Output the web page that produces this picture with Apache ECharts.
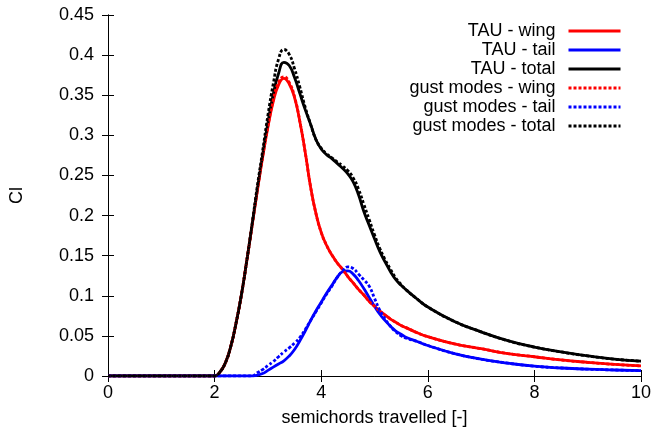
<!DOCTYPE html>
<html>
<head>
<meta charset="utf-8">
<script src="https://cdn.jsdelivr.net/npm/echarts@6/dist/echarts.min.js"></script>
<style>
html,body{margin:0;padding:0;background:#fff;}
#chart{width:657px;height:438px;}
</style>
</head>
<body>
<div id="chart"></div>
<script>
// x positions (semichords travelled)
var xs = [0, 1, 1.9, 2.0, 2.1, 2.2, 2.3, 2.4, 2.5, 2.6, 2.7, 2.8, 2.9, 3.0, 3.1, 3.2, 3.3, 3.4, 3.5, 3.6, 3.7, 3.8, 3.9, 4.0, 4.1, 4.2, 4.3, 4.4, 4.5, 4.6, 4.7, 4.8, 4.9, 5.0, 5.1, 5.2, 5.3, 5.4, 5.5, 5.6, 5.8, 6.0, 6.5, 7.0, 7.5, 8.0, 8.5, 9.0, 9.5, 10.0];

var tauWing = [0, 0, 0, 0, 0.005, 0.016, 0.036, 0.065, 0.1, 0.142, 0.186, 0.23, 0.272, 0.31, 0.342, 0.363, 0.371, 0.364, 0.347, 0.317, 0.279, 0.236, 0.203, 0.179, 0.163, 0.151, 0.141, 0.133, 0.124, 0.116, 0.108, 0.101, 0.093, 0.087, 0.081, 0.076, 0.071, 0.067, 0.063, 0.06, 0.054, 0.049, 0.04, 0.034, 0.028, 0.024, 0.02, 0.017, 0.0145, 0.0125];

var tauTail = [0, 0, 0, 0, 0, 0, 0, 0, 0, 0, 0, 0.001, 0.003, 0.007, 0.011, 0.015, 0.019, 0.025, 0.033, 0.044, 0.056, 0.069, 0.081, 0.092, 0.103, 0.113, 0.123, 0.13, 0.131, 0.127, 0.119, 0.109, 0.098, 0.087, 0.077, 0.069, 0.062, 0.056, 0.052, 0.048, 0.043, 0.038, 0.028, 0.021, 0.016, 0.0122, 0.01, 0.0085, 0.0075, 0.0066];

var tauTotal = [0, 0, 0, 0, 0.005, 0.016, 0.036, 0.065, 0.1, 0.142, 0.187, 0.232, 0.275, 0.316, 0.351, 0.377, 0.391, 0.387, 0.372, 0.352, 0.332, 0.314, 0.295, 0.283, 0.276, 0.271, 0.265, 0.259, 0.252, 0.242, 0.226, 0.205, 0.188, 0.171, 0.155, 0.142, 0.13, 0.12, 0.113, 0.107, 0.096, 0.086, 0.068, 0.055, 0.044, 0.036, 0.03, 0.025, 0.021, 0.0185];

var gustWing = [0, 0, 0, 0, 0.005, 0.016, 0.036, 0.065, 0.1, 0.142, 0.186, 0.231, 0.273, 0.311, 0.344, 0.366, 0.373, 0.366, 0.348, 0.317, 0.279, 0.236, 0.203, 0.179, 0.163, 0.151, 0.141, 0.133, 0.124, 0.116, 0.108, 0.101, 0.093, 0.087, 0.081, 0.076, 0.071, 0.067, 0.063, 0.06, 0.054, 0.049, 0.04, 0.034, 0.028, 0.024, 0.02, 0.017, 0.0145, 0.0125];

var gustTail = [0, 0, 0, 0, 0, 0, 0, 0, 0, 0, 0, 0.004, 0.008, 0.013, 0.018, 0.024, 0.03, 0.035, 0.041, 0.048, 0.058, 0.069, 0.08, 0.091, 0.102, 0.112, 0.123, 0.131, 0.136, 0.134, 0.127, 0.12, 0.112, 0.097, 0.082, 0.071, 0.062, 0.055, 0.05, 0.047, 0.043, 0.038, 0.028, 0.021, 0.016, 0.0122, 0.01, 0.0085, 0.0075, 0.0066];

var gustTotal = [0, 0, 0, 0, 0.005, 0.016, 0.036, 0.065, 0.1, 0.142, 0.188, 0.236, 0.28, 0.325, 0.364, 0.395, 0.407, 0.401, 0.383, 0.36, 0.335, 0.314, 0.295, 0.284, 0.277, 0.272, 0.267, 0.262, 0.256, 0.247, 0.233, 0.214, 0.195, 0.176, 0.159, 0.145, 0.133, 0.122, 0.114, 0.107, 0.096, 0.086, 0.068, 0.055, 0.044, 0.036, 0.03, 0.025, 0.021, 0.0185];

var seriesNames = ['TAU - wing', 'TAU - tail', 'TAU - total', 'gust modes - wing', 'gust modes - tail', 'gust modes - total'];
var xTicks = [0, 2, 4, 6, 8, 10];
var yTicks = [0, 0.05, 0.1, 0.15, 0.2, 0.25, 0.3, 0.35, 0.4, 0.45];

function pairs(ys) { return xs.map(function (x, i) { return [x, ys[i]]; }); }

var FONT = 'Liberation Sans';
var chart = echarts.init(document.getElementById('chart'), null, {renderer: 'canvas'});

function mkSeries(name, ys, color, dashed) {
  return {
    name: name, type: 'line', data: pairs(ys),
    xAxisIndex: 0, yAxisIndex: 0,
    showSymbol: false, symbol: 'none',
    smooth: 0.5,
    lineStyle: {color: color, width: 2.8, type: dashed ? [3, 2] : 'solid'},
    itemStyle: {color: color},
    emphasis: {disabled: true},
    animation: false
  };
}

var axisCommon = {
  axisLine: {show: true, lineStyle: {color: '#000', width: 1}},
  axisTick: {show: true, inside: true, length: 6, lineStyle: {color: '#000', width: 1}},
  splitLine: {show: false}
};

chart.setOption({
  animation: false,
  backgroundColor: '#fff',
  textStyle: {fontFamily: FONT},
  grid: {left: 107, right: 16, top: 15, bottom: 62, containLabel: false},
  legend: {
    data: seriesNames,
    orient: 'vertical',
    align: 'right',
    right: 35, top: 22,
    padding: 0,
    itemWidth: 52, itemHeight: 14, itemGap: 1,
    itemStyle: {opacity: 0, borderWidth: 0},
    lineStyle: {width: 3},
    textStyle: {fontFamily: FONT, fontSize: 18, color: '#000', lineHeight: 18, padding: [0, 8, 0, 0]},
    selectedMode: false
  },
  xAxis: [
    Object.assign({
      type: 'value', min: 0, max: 10, interval: 2, position: 'bottom',
      name: 'semichords travelled [-]', nameLocation: 'middle', nameGap: 33,
      nameTextStyle: {fontFamily: FONT, fontSize: 18, color: '#000'},
      axisLabel: {fontFamily: FONT, fontSize: 18, color: '#000', margin: 8,
        formatter: function (v) { return xTicks.indexOf(v) >= 0 ? String(v) : ''; }}
    }, axisCommon),
    Object.assign({
      type: 'value', min: 0, max: 10, interval: 2, position: 'top',
      axisLabel: {show: false}
    }, axisCommon)
  ],
  yAxis: [
    Object.assign({
      type: 'value', min: 0, max: 0.45, interval: 0.05, position: 'left',
      name: 'Cl', nameLocation: 'middle', nameGap: 82, nameRotate: 90,
      nameTextStyle: {fontFamily: FONT, fontSize: 18, color: '#000'},
      axisLabel: {fontFamily: FONT, fontSize: 18, color: '#000', margin: 14,
        formatter: function (v) { var r = Math.round(v * 100) / 100; return String(r); }}
    }, axisCommon),
    Object.assign({
      type: 'value', min: 0, max: 0.45, interval: 0.05, position: 'right',
      axisLabel: {show: false}
    }, axisCommon)
  ],
  series: [
    mkSeries(seriesNames[0], tauWing, '#ff0000', false),
    mkSeries(seriesNames[1], tauTail, '#0000ff', false),
    mkSeries(seriesNames[2], tauTotal, '#000000', false),
    mkSeries(seriesNames[3], gustWing, '#ff0000', true),
    mkSeries(seriesNames[4], gustTail, '#0000ff', true),
    mkSeries(seriesNames[5], gustTotal, '#000000', true)
  ]
});
</script>
</body>
</html>
